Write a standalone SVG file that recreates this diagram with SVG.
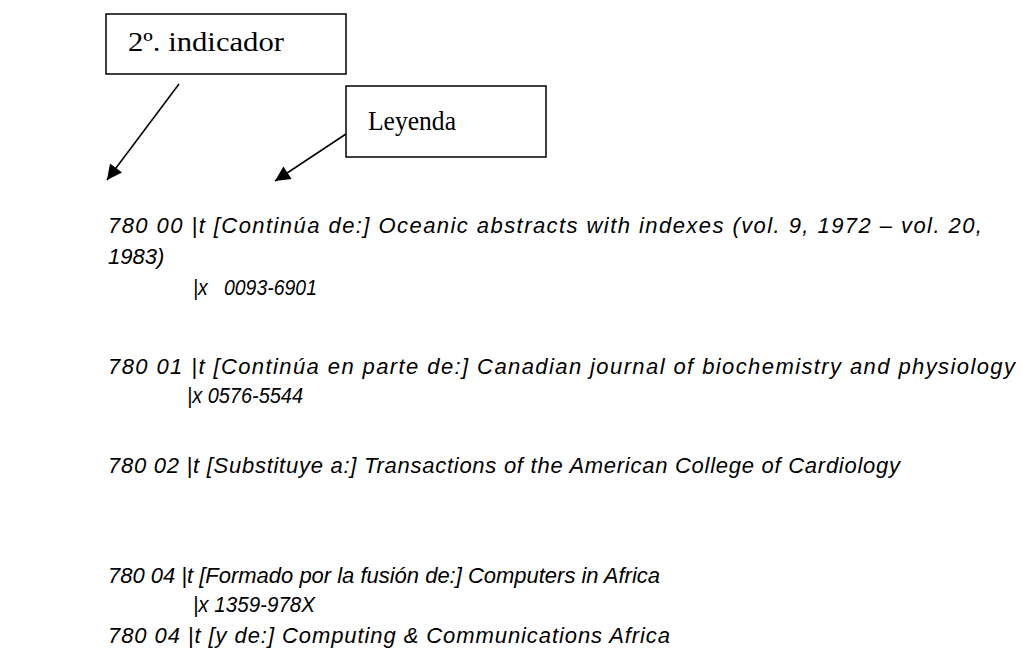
<svg xmlns="http://www.w3.org/2000/svg" width="1023" height="657" viewBox="0 0 1023 657">
<style>
.box{fill:#fff;stroke:#000;stroke-width:1.5}
.lbl{font-family:"Liberation Serif","Times New Roman",serif;font-size:27px;fill:#000}
.rec{font-family:"Liberation Sans",Arial,sans-serif;font-style:italic;font-size:22px;fill:#000}
.con{stroke:#000;stroke-width:1.5;fill:none;marker-end:url(#ah)}
</style>
<defs>
<marker id="ah" viewBox="0 0 10 10" refX="10" refY="5" markerWidth="17" markerHeight="15" markerUnits="userSpaceOnUse" orient="auto">
<path d="M0,0 L10,5 L0,10 z" fill="#000"/>
</marker>
</defs>
<g id="node-indicador">
<rect class="box" x="106" y="14" width="240" height="60"/>
<text class="lbl" x="128" y="51" textLength="156" lengthAdjust="spacingAndGlyphs">2º. indicador</text>
</g>
<g id="node-leyenda">
<rect class="box" x="346" y="86" width="200" height="71"/>
<text class="lbl" x="368" y="130" textLength="88" lengthAdjust="spacingAndGlyphs">Leyenda</text>
</g>
<g id="connectors">
<line class="con" x1="179" y1="84" x2="107" y2="180"/>
<line class="con" x1="346" y1="134" x2="275" y2="181"/>
</g>
<g id="record">
<text class="rec" x="108" y="233" textLength="874">780 00 |t [Continúa de:] Oceanic abstracts with indexes (vol. 9, 1972 – vol. 20,</text>
<text class="rec" x="108" y="264">1983)</text>
<text class="rec" x="193" y="295" xml:space="preserve" textLength="124" lengthAdjust="spacingAndGlyphs">|x   0093-6901</text>
<text class="rec" x="108" y="374" textLength="907">780 01 |t [Continúa en parte de:] Canadian journal of biochemistry and physiology</text>
<text class="rec" x="187" y="403" textLength="116" lengthAdjust="spacingAndGlyphs">|x 0576-5544</text>
<text class="rec" x="108" y="473" textLength="792">780 02 |t [Substituye a:] Transactions of the American College of Cardiology</text>
<text class="rec" x="108" y="583" textLength="552">780 04 |t [Formado por la fusión de:] Computers in Africa</text>
<text class="rec" x="193" y="612" textLength="122" lengthAdjust="spacingAndGlyphs">|x 1359-978X</text>
<text class="rec" x="108" y="643" textLength="562">780 04 |t [y de:] Computing &amp; Communications Africa</text>
</g>
</svg>
